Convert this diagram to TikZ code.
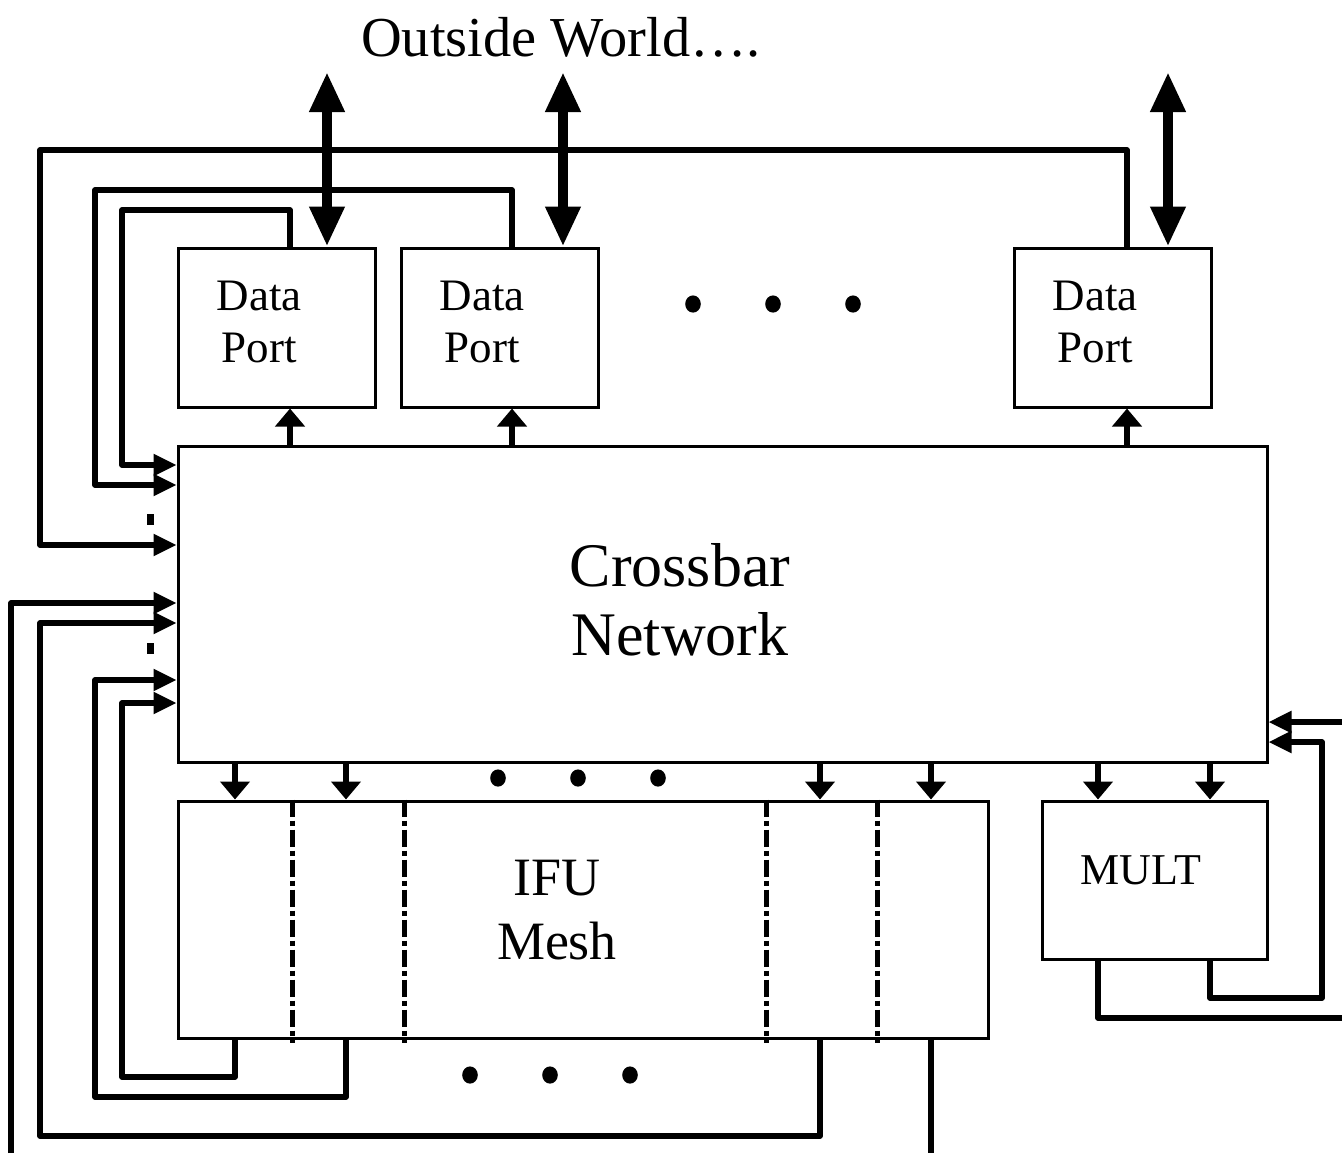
\documentclass[tikz,border=0pt]{standalone}
\usepackage{fontspec}
\setmainfont{Liberation Serif}
\usetikzlibrary{arrows.meta}
\begin{document}
\begin{tikzpicture}[x=0.5pt,y=-0.5pt,
 box/.style={draw,line width=1.5pt,inner sep=0pt},
 conn/.style={line width=2.6pt,line join=round},
 harrow/.style={conn,-{Triangle[length=11.5pt,width=10.5pt]}},
 varrow/.style={conn,-{Triangle[length=9pt,width=14.5pt]}},
 bigarrow/.style={line width=5.3pt,{Triangle[length=20pt,width=16.5pt]}-{Triangle[length=20pt,width=16.5pt]}},
 dashdot/.style={line width=2.5pt,dash pattern=on 8.5pt off 2pt on 2.5pt off 2pt},
 lbl/.style={align=center,inner sep=0pt},
 sqdot/.style={fill,inner sep=0pt,minimum width=3.5pt,minimum height=5.5pt}
]
\useasboundingbox (0,0) rectangle (1342,1153);

% boxes
\node[box,minimum width=98.5pt,minimum height=79.5pt] (dp1) at (276.5,327.5) {};
\node[box,minimum width=98.5pt,minimum height=79.5pt] (dp2) at (499.5,327.5) {};
\node[box,minimum width=98.5pt,minimum height=79.5pt] (dp3) at (1112.5,327.5) {};
\node[box,minimum width=544.5pt,minimum height=158pt] (cb) at (722.5,604) {};
\node[box,minimum width=405pt,minimum height=118.5pt] (ifu) at (583,919.5) {};
\node[box,minimum width=112.5pt,minimum height=79pt] (mult) at (1154.5,880) {};

% labels
\node[lbl,font=\fontsize{22.5}{26}\selectfont] (t1) at (259,322) {Data\\Port};
\node[lbl,font=\fontsize{22.5}{26}\selectfont] (t2) at (482,322) {Data\\Port};
\node[lbl,font=\fontsize{22.5}{26}\selectfont] (t3) at (1095,322) {Data\\Port};
\node[lbl,font=\fontsize{31}{34.5}\selectfont] (tcb) at (680,600) {Crossbar\\Network};
\node[lbl,font=\fontsize{27}{32}\selectfont] (tifu) at (557,910) {IFU\\Mesh};
\node[lbl,font=\fontsize{22}{26}\selectfont] (tm) at (1141,870) {MULT};
\node[lbl,font=\fontsize{28.2}{34}\selectfont] (tow) at (561,37) {Outside World….};

% dash-dot separators in IFU mesh
\foreach \x in {292,404,766,877} \draw[dashdot] (ifu.north -| \x,0) -- (\x,1043);

% outside world arrows
\coordinate (w1) at (327,72);
\coordinate (w2) at (563,72);
\coordinate (w3) at (1168,72);
\draw[bigarrow] (w1) -- (dp1.north -| w1);
\draw[bigarrow] (w2) -- (dp2.north -| w2);
\draw[bigarrow] (w3) -- (dp3.north -| w3);

% crossbar to data ports
\draw[varrow] (cb.north -| 290,0) -- (dp1.south -| 290,0);
\draw[varrow] (cb.north -| 512,0) -- (dp2.south -| 512,0);
\draw[varrow] (cb.north -| 1127,0) -- (dp3.south -| 1127,0);

% crossbar to IFU and MULT
\foreach \x in {235,346,820,931} \draw[varrow] (cb.south -| \x,0) -- (ifu.north -| \x,0);
\foreach \x in {1098,1210} \draw[varrow] (cb.south -| \x,0) -- (mult.north -| \x,0);

% data port feedback into crossbar
\draw[harrow] (dp1.north -| 290,0) |- (122,210) |- (cb.west |- 0,465);
\draw[harrow] (dp2.north -| 512,0) |- (95,190) |- (cb.west |- 0,485);
\draw[harrow] (dp3.north -| 1127,0) |- (40,150) |- (cb.west |- 0,545);

% IFU feedback into crossbar
\coordinate (ext1) at (11,1153);
\draw[harrow] (ext1) |- (cb.west |- 0,603);
\draw[harrow] (ifu.south -| 820,0) |- (40,1136) |- (cb.west |- 0,623);
\draw[harrow] (ifu.south -| 346,0) |- (95,1097) |- (cb.west |- 0,680);
\draw[harrow] (ifu.south -| 235,0) |- (122,1077) |- (cb.west |- 0,703);
\coordinate (ext2) at (931,1153);
\draw[conn] (ifu.south -| 931,0) -- (ext2);

% right side
\coordinate (ext3) at (1342,722);
\draw[harrow] (ext3) -- (cb.east |- ext3);
\draw[harrow] (mult.south -| 1210,0) |- (1322,998) |- (cb.east |- 0,742);
\coordinate (ext4) at (1342,1018);
\draw[conn] (mult.south -| 1098,0) |- (ext4);

% ellipsis dots
\foreach \x in {693,773,853} \fill (\x,304) ellipse [x radius=3.9pt, y radius=4.3pt];
\foreach \x in {498,578,658} \fill (\x,778) ellipse [x radius=3.9pt, y radius=4.3pt];
\foreach \x in {470,550,630} \fill (\x,1075) ellipse [x radius=3.9pt, y radius=4.3pt];
\node[sqdot] (sd1) at (150,519) {};
\node[sqdot] (sd2) at (150,648) {};
\end{tikzpicture}
\end{document}
